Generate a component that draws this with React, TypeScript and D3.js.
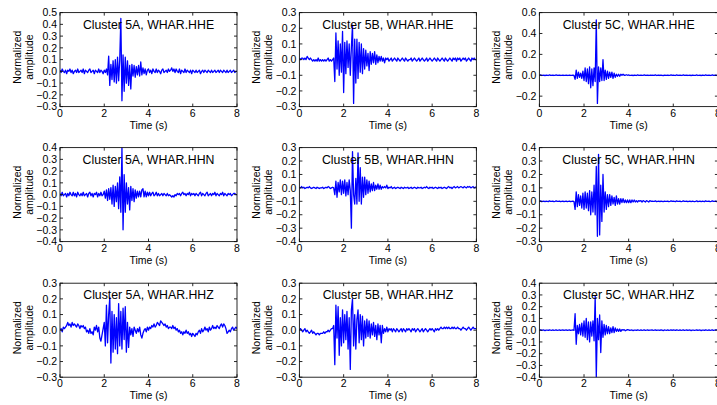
import * as d3 from 'd3';

// Normalized waveforms, one sample every 0.05 s (0 to 8 s)
const dt = 0.05;

const clusters = ['5A', '5B', '5C'];
const channels = ['HHE', 'HHN', 'HHZ'];

// y-axis ranges and tick labels, per channel row then cluster column
const yDomains = [
  [[-0.3, 0.5], [-0.3, 0.3], [-0.3, 0.6]],
  [[-0.4, 0.4], [-0.4, 0.3], [-0.3, 0.4]],
  [[-0.3, 0.3], [-0.3, 0.3], [-0.4, 0.4]],
];
const yTicks = [
  [[-0.3, -0.2, -0.1, 0, 0.1, 0.2, 0.3, 0.4, 0.5], [-0.3, -0.2, -0.1, 0, 0.1, 0.2, 0.3], [-0.2, 0, 0.2, 0.4, 0.6]],
  [[-0.4, -0.3, -0.2, -0.1, 0, 0.1, 0.2, 0.3, 0.4], [-0.4, -0.3, -0.2, -0.1, 0, 0.1, 0.2, 0.3], [-0.3, -0.2, -0.1, 0, 0.1, 0.2, 0.3, 0.4]],
  [[-0.3, -0.2, -0.1, 0, 0.1, 0.2, 0.3], [-0.3, -0.2, -0.1, 0, 0.1, 0.2, 0.3], [-0.4, -0.3, -0.2, -0.1, 0, 0.1, 0.2, 0.3, 0.4]],
];
const xTicks = [0, 2, 4, 6, 8];

const hheA = [
  .01, -.01, .02, 0, -.01, .01, -.02, .01, 0, .02, -.01, .01, -.02, 0, .01, -.01, .02, -.01, 0, .01,
  -.01, .02, -.02, .01, 0, -.01, .01, .02, -.01, 0, .01, -.02, .01, 0, -.01, .02, -.01, .01, 0, -.02,
  .01, -.01, .02, -.03, .13, -.12, .06, -.07, .09, -.09, .1, -.1, .12, -.08, .1, .45, -.25, .14, -.17, .12,
  -.1, .09, -.12, .05, -.15, .06, -.04, .05, -.05, .04, -.03, .05, -.04, .08, -.03, .03, -.02, .02, -.03, .01,
  .02, -.01, .01, -.02, .02, 0, -.01, .02, -.01, .01, 0, -.02, .01, .02, -.01, 0, .01, -.01, .02, 0,
  .01, .03, 0, .02, -.01, .02, 0, -.01, .02, -.02, .01, 0, -.01, .02, -.01, .01, 0, -.01, .01, -.02,
  .01, 0, -.01, .01, -.01, 0, .01, -.02, 0, .01, -.01, .01, 0, -.01, .01, 0, -.01, .01, -.01, 0,
  .01, -.01, 0, .01, -.01, .01, 0, -.01, .01, 0, -.01, .01, -.01, 0, .01, -.01, 0, .01, -.01, 0,
  0,
];

const hheB = [
  .01, 0, .01, .01, 0, .01, 0, .02, .01, 0, .01, 0, -.01, 0, -.01, 0, -.01, .01, -.01, 0,
  -.01, 0, -.01, 0, -.01, 0, .01, -.01, 0, -.01, 0, .01, -.14, .17, -.06, .12, -.1, .1, -.08, .18,
  -.21, .11, -.09, .12, -.05, .1, -.1, .08, .22, -.28, .13, -.15, .13, -.12, .11, -.08, .1, -.09, .07, -.06,
  .06, -.04, .04, -.07, .05, -.03, .04, -.02, .05, -.03, .03, -.02, .02, -.01, .02, -.01, .01, -.02, .01, 0,
  .01, -.01, 0, .01, -.01, 0, .01, 0, -.01, .01, 0, -.01, 0, .01, 0, -.01, .01, 0, -.01, 0,
  0, .01, -.01, 0, .01, 0, -.01, 0, .01, -.01, 0, .01, 0, -.01, 0, .01, -.01, 0, .01, 0,
  -.01, 0, .01, 0, -.01, .01, 0, -.01, 0, .01, 0, -.01, .01, 0, -.01, 0, .01, 0, -.01, .01,
  0, .01, -.01, .01, 0, .01, -.01, 0, .01, 0, .01, -.01, 0, .01, 0, -.01, .01, 0, .01, 0,
  0,
];

const hheC = [
  0, .003, -.002, 0, .002, -.003, .001, 0, -.002, .003, 0, -.001, .002, -.002, 0, .003, -.001, 0, .002, -.002,
  0, .002, -.002, 0, .002, -.002, 0, .002, -.002, 0, .002, -.002, -.04, .05, -.03, .03, -.02, .02, -.03, .04,
  -.05, .07, -.06, .06, -.08, .08, -.12, .06, -.1, .07, -.06, .53, -.27, .08, -.06, .07, -.05, .15, -.05, .05,
  -.04, .04, -.03, .03, -.02, .03, -.03, .02, -.02, .01, -.01, .01, -.01, .01, 0, .01, 0, 0, .005, 0,
  .003, -.002, 0, .002, -.003, .001, 0, -.002, .003, 0, -.001, .002, -.002, 0, .003, -.001, 0, .002, -.002, 0,
  0, .002, -.001, 0, .003, -.002, 0, .001, -.002, .002, 0, -.003, .002, 0, -.001, .002, -.002, 0, .003, -.001,
  .002, 0, -.002, .003, 0, -.001, .002, -.002, 0, .003, -.001, 0, .002, -.002, 0, .002, -.003, .001, 0, -.002,
  0, .003, -.002, 0, .002, -.003, .001, 0, -.002, .003, 0, -.001, .002, -.002, 0, .003, -.001, 0, .002, -.002,
  0,
];

const hhnA = [
  .01, -.01, .02, -.01, 0, .01, -.02, .01, -.01, .02, 0, -.01, .02, -.01, .01, -.02, .02, 0, -.01, .01,
  -.01, .02, -.01, 0, .01, -.02, .01, .02, -.01, .01, -.02, .01, 0, .02, -.02, .01, -.01, .02, -.01, 0,
  .03, -.03, .04, -.05, .05, -.04, .06, -.08, .08, -.1, .07, -.06, .1, -.12, .15, -.15, .4, -.3, .17, -.15,
  .1, -.08, .06, -.13, .07, -.05, .05, -.06, .04, -.03, .03, -.02, .03, -.02, .04, .05, -.02, .03, -.02, .02,
  -.01, .02, -.01, .01, .02, -.01, 0, .02, -.01, .01, -.01, 0, .01, -.01, .01, 0, -.01, .01, -.01, 0,
  -.01, -.02, -.01, -.02, 0, -.01, .01, 0, .01, -.01, .01, .02, 0, .01, -.01, .01, 0, .02, -.01, .01,
  0, .01, -.01, .01, 0, -.01, .01, .02, -.01, .01, 0, -.01, .01, .02, -.01, 0, .01, -.01, .01, 0,
  .02, -.01, .01, 0, -.01, .01, 0, .02, -.01, .01, 0, -.01, .01, 0, .01, -.01, 0, .01, .01, 0,
  0,
];

const hhnB = [
  .005, 0, .01, 0, .005, -.005, 0, .005, 0, .01, 0, -.005, 0, .005, 0, -.005, .005, 0, -.005, 0,
  0, .005, -.005, 0, .005, 0, .01, .005, -.005, 0, .005, 0, -.05, .05, -.07, .04, -.03, .06, -.05, .05,
  -.04, .06, -.06, .04, -.05, .06, -.02, -.3, .27, -.05, -.12, .07, -.12, .26, -.1, .15, -.12, .08, -.07, .08,
  -.05, .06, -.04, .05, -.03, .03, -.02, .04, -.02, .02, -.01, .03, -.01, .02, -.01, .01, 0, .01, 0, .02,
  -.005, .005, 0, .01, -.005, 0, .005, -.005, 0, .005, 0, -.005, .005, 0, -.005, .005, 0, 0, .005, -.005,
  0, .005, -.005, 0, .005, 0, -.005, .005, 0, 0, .005, -.005, 0, .005, 0, .01, 0, -.005, .005, 0,
  .005, -.005, 0, .005, 0, -.005, .005, 0, .005, -.005, 0, .005, 0, -.005, .005, .01, 0, .005, -.005, .005,
  .01, 0, .005, .01, 0, .005, .01, .005, 0, .01, .005, 0, .01, .005, .01, 0, .005, .01, 0, .005,
  .005,
];

const hhnC = [
  0, .003, -.002, 0, .002, -.003, .001, 0, -.002, .003, 0, -.001, .002, -.002, 0, .003, -.001, 0, .002, -.002,
  0, .002, -.002, 0, .002, -.002, 0, .002, -.002, 0, .002, -.002, -.06, .07, -.04, .05, -.03, .04, -.05, .06,
  -.06, .07, -.05, .06, -.07, .08, -.1, .07, -.08, .12, -.1, .26, -.26, .35, -.25, .12, -.15, .2, -.08, .07,
  -.06, .05, -.04, .05, -.03, .04, -.02, .03, -.03, .04, -.02, .02, -.02, .02, -.01, .02, -.01, .01, -.01, .01,
  -.01, .01, -.01, .01, -.005, .01, -.005, .005, -.005, .005, 0, .005, -.005, .005, 0, -.005, .005, 0, -.005, .005,
  0, .002, -.001, 0, .003, -.002, 0, .001, -.002, .002, 0, -.003, .002, 0, -.001, .002, -.002, 0, .003, -.001,
  .002, 0, -.002, .003, 0, -.001, .002, -.002, 0, .003, -.001, 0, .002, -.002, 0, .002, -.003, .001, 0, -.002,
  0, .003, -.002, 0, .002, -.003, .001, 0, -.002, .003, 0, -.001, .002, -.002, 0, .003, -.001, 0, .002, -.002,
  0,
];

const hhzA = [
  0, .01, -.01, .02, .01, .02, .03, .05, .03, .04, .02, .05, .03, .04, .03, .02, .04, .03, .01, .03,
  .02, .03, .01, .02, -.01, 0, -.02, .01, -.02, -.01, -.03, .02, 0, .03, -.01, .02, -.05, -.07, -.03, .01,
  .05, -.1, .16, -.08, .1, .21, -.21, .12, -.14, .1, -.12, .08, -.15, .17, -.1, .12, -.12, .14, -.06, .15,
  -.14, .05, -.11, .02, -.03, .01, -.04, .02, 0, -.02, .01, -.01, .02, -.03, -.05, -.02, 0, .01, -.01, .02,
  0, .02, .01, .03, .02, .04, .02, .03, .05, .04, .03, .06, .05, .04, .03, .04, .02, .03, .01, .02,
  .02, .01, .03, .01, .02, 0, .01, -.01, 0, -.02, -.01, -.03, -.01, -.02, 0, -.02, -.01, -.03, -.02, -.04,
  -.02, -.03, -.04, -.02, -.03, -.01, 0, -.02, .01, -.01, 0, .02, 0, .01, -.01, .02, 0, .01, .03, .01,
  .02, .01, .03, .02, .01, .03, .04, .02, .04, .03, .01, -.02, -.01, 0, -.01, .01, .02, 0, .01, .02,
  .01,
];

const hhzB = [
  0, .01, 0, -.01, 0, .01, -.01, 0, -.01, -.02, -.01, 0, -.02, -.01, -.02, -.03, -.02, -.02, -.03, -.02,
  -.02, -.02, -.01, -.02, -.01, -.01, 0, -.01, 0, .01, .01, .03, -.22, .16, -.05, .15, -.16, .08, -.1, .13,
  -.08, .1, -.06, .12, -.12, .08, -.25, .13, .2, -.1, .1, -.12, .07, .13, -.08, .1, -.06, .09, -.1, .06,
  -.05, .07, -.04, .06, -.05, .04, -.03, .05, -.04, .03, -.06, .04, -.03, .03, -.08, .03, -.02, .01, -.01, .02,
  -.01, .01, 0, .01, -.01, .01, 0, -.01, .01, 0, -.01, 0, .01, -.01, .01, 0, -.01, .01, 0, .01,
  0, -.01, .01, 0, .01, -.01, 0, .01, 0, -.01, 0, .01, -.01, 0, .01, 0, -.01, 0, .01, 0,
  .01, 0, -.01, .01, 0, .01, 0, .01, .02, .01, .01, .02, .01, .02, .01, .02, .01, .01, .02, .01,
  .02, .01, .01, .02, .01, .01, 0, .01, .02, .01, .01, 0, .01, .02, .01, 0, .01, .02, .01, .01,
  .01,
];

const hhzC = [
  0, .003, -.002, 0, .002, -.003, .001, 0, -.002, .003, 0, -.001, .002, -.002, 0, .003, -.001, 0, .002, -.002,
  0, .002, -.002, 0, .002, -.002, 0, .002, -.002, 0, .002, -.002, .14, -.12, .04, -.03, .05, -.04, .06, -.05,
  .08, -.06, .1, -.08, .07, -.1, .07, -.05, .08, -.09, .29, -.4, .1, -.08, .13, -.19, .08, -.06, .05, -.04,
  .04, -.03, .03, -.03, .02, -.02, .03, -.02, .02, -.01, .01, -.01, .01, -.01, .005, 0, .005, -.005, 0, .005,
  .003, -.002, 0, .002, -.003, .001, 0, -.002, .003, 0, -.001, .002, -.002, 0, .003, -.001, 0, .002, -.002, 0,
  0, .002, -.001, 0, .003, -.002, 0, .001, -.002, .002, 0, -.003, .002, 0, -.001, .002, -.002, 0, .003, -.001,
  .002, 0, -.002, .003, 0, -.001, .002, -.002, 0, .003, -.001, 0, .002, -.002, 0, .002, -.003, .001, 0, -.002,
  0, .003, -.002, 0, .002, -.003, .001, 0, -.002, .003, 0, -.001, .002, -.002, 0, .003, -.001, 0, .002, .003,
  0,
];

const traces = [
  [hheA, hheB, hheC],
  [hhnA, hhnB, hhnC],
  [hhzA, hhzB, hhzC],
];

// layout
const colLeft = [60, 299.4, 539.4];
const colWidth = [177, 177, 178.5];
const rowTop = [12.6, 147.6, 283.2];
const plotH = 94;
const fmt = d3.format('.1f');
const font = "'Liberation Sans', Arial, Helvetica, sans-serif";

function Panel({ row, col }: { row: number; col: number }) {
  const w = colWidth[col];
  const h = plotH;
  const x = d3.scaleLinear().domain([0, 8]).range([0, w]);
  const y = d3.scaleLinear().domain(yDomains[row][col]).range([h, 0]);
  const line = d3.line<number>()
    .x((d, i) => x(i * dt))
    .y(d => y(d));
  const clipId = `clip-${row}-${col}`;

  return (
    <g transform={`translate(${colLeft[col]},${rowTop[row]})`}>
      <defs>
        <clipPath id={clipId}>
          <rect x={0} y={0} width={w} height={h} />
        </clipPath>
      </defs>
      <path d={line(traces[row][col]) || ''} fill="none" stroke="#0000ff" strokeWidth={1.3}
        strokeLinejoin="round" clipPath={`url(#${clipId})`} />
      <rect x={0} y={0} width={w} height={h} fill="none" stroke="#111" strokeWidth={0.9} />

      {xTicks.map(t => (
        <g key={'x' + t}>
          <line x1={x(t)} x2={x(t)} y1={h} y2={h - 3} stroke="#111" strokeWidth={0.9} />
          <line x1={x(t)} x2={x(t)} y1={0} y2={3} stroke="#111" strokeWidth={0.9} />
          <text x={x(t)} y={h + 10} textAnchor="middle" fontSize={10.5}>{t}</text>
        </g>
      ))}
      {yTicks[row][col].map(t => (
        <g key={'y' + t}>
          <line x1={0} x2={3} y1={y(t)} y2={y(t)} stroke="#111" strokeWidth={0.9} />
          <line x1={w} x2={w - 3} y1={y(t)} y2={y(t)} stroke="#111" strokeWidth={0.9} />
          <text x={-3} y={y(t)} dy="0.35em" textAnchor="end" fontSize={10.5}>{fmt(t)}</text>
        </g>
      ))}

      <text x={w / 2} y={16} textAnchor="middle" fontSize={12.3}>
        {`Cluster ${clusters[col]}, WHAR.${channels[row]}`}
      </text>
      <text x={w / 2} y={h + 22} textAnchor="middle" fontSize={10.5}>Time (s)</text>
      <g transform={`translate(0,${h / 2 - 2.5}) rotate(-90)`}>
        <text x={0} y={-39.5} textAnchor="middle" fontSize={10.5}>Normalized</text>
        <text x={0} y={-27.5} textAnchor="middle" fontSize={10.5}>amplitude</text>
      </g>
    </g>
  );
}

export default function App() {
  return (
    <svg width={717} height={405} fontFamily={font}
      style={{ position: 'absolute', left: 0, top: 0, background: '#fff' }}>
      {channels.map((_, r) => clusters.map((_, c) => (
        <Panel key={`${r}-${c}`} row={r} col={c} />
      )))}
    </svg>
  );
}
